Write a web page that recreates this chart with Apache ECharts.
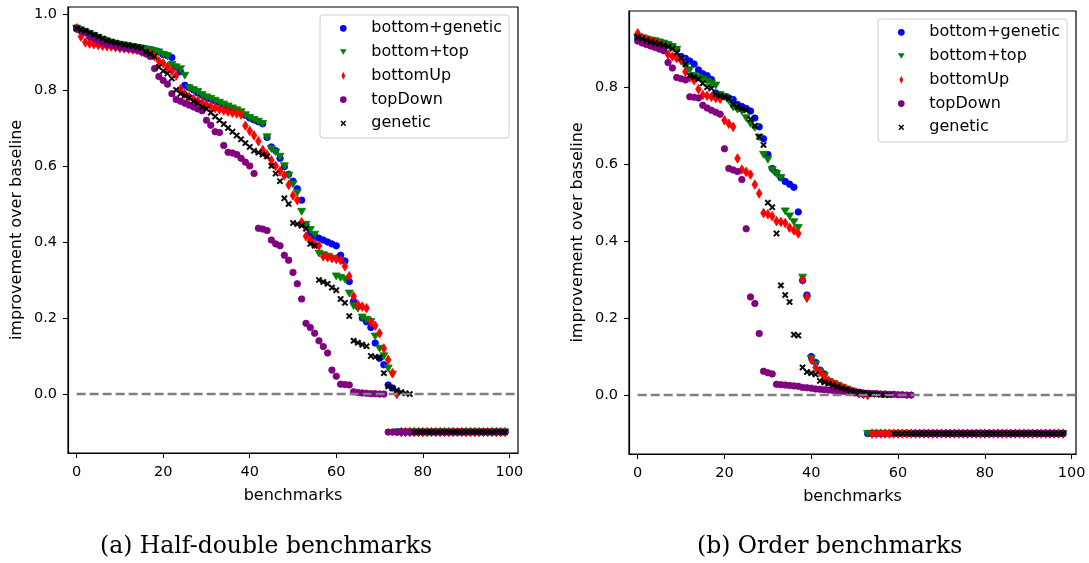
<!DOCTYPE html>
<html><head><meta charset="utf-8">
<script src="https://cdn.jsdelivr.net/npm/echarts@6/dist/echarts.min.js"></script>
<style>html,body{margin:0;padding:0;background:#fff}#c{width:1089px;height:563px}</style>
</head><body><div id="c"></div>
<script>
// ---------- data ----------
const seriesNames = ['bottom+genetic', 'bottom+top', 'bottomUp', 'topDown', 'genetic'];
const xTicks = [0, 20, 40, 60, 80, 100];
const yTicksA = [0, 0.2, 0.4, 0.6, 0.8, 1.0];
const yTicksB = [0, 0.2, 0.4, 0.6, 0.8];
const baselineValue = 0;
const captions = ['(a) Half-double benchmarks', '(b) Order benchmarks'];

// (a) Half-double benchmarks, index = benchmark
const halfBottomGenetic = [
 0.963,0.958,0.953,0.948,0.943,0.938,0.933,0.929,0.925,0.922,
 0.920,0.918,0.916,0.914,0.912,0.910,0.908,0.906,0.903,0.900,
 0.893,0.890,0.885,0.860,0.848,0.812,0.806,0.800,0.792,0.786,
 0.780,0.776,0.771,0.766,0.761,0.756,0.751,0.746,0.741,0.733,
 0.726,0.721,0.716,0.711,0.675,0.650,0.640,0.620,0.598,0.578,
 0.560,0.540,0.510,0.445,0.420,0.415,0.410,0.405,0.400,0.395,
 0.390,0.365,0.350,0.296,0.244,0.230,0.200,0.190,0.175,0.134,
 0.094,0.077,0.024,0.016,-0.1,-0.1,-0.1,-0.1,-0.1,-0.1,
 -0.1,-0.1,-0.1,-0.1,-0.1,-0.1,-0.1,-0.1,-0.1,-0.1,
 -0.1,-0.1,-0.1,-0.1,-0.1,-0.1,-0.1,-0.1,-0.1,-0.1];
const halfBottomTop = [
 0.962,0.957,0.952,0.947,0.942,0.937,0.932,0.928,0.924,0.921,
 0.919,0.917,0.915,0.913,0.911,0.909,0.907,0.905,0.902,0.899,
 0.893,0.889,0.866,0.860,0.855,0.838,0.805,0.800,0.795,0.787,
 0.781,0.777,0.772,0.767,0.762,0.757,0.752,0.747,0.742,0.734,
 0.727,0.722,0.717,0.711,0.676,0.645,0.636,0.625,0.600,0.575,
 0.552,0.530,0.480,0.446,0.432,0.420,0.370,0.366,0.362,0.356,
 0.310,0.306,0.302,0.265,0.232,0.225,0.202,0.196,0.190,0.152,
 0.120,0.100,0.068,0.052,-0.1,-0.1,-0.1,-0.1,-0.1,-0.1,
 -0.1,-0.1,-0.1,-0.1,-0.1,-0.1,-0.1,-0.1,-0.1,-0.1,
 -0.1,-0.1,-0.1,-0.1,-0.1,-0.1,-0.1,-0.1,-0.1,-0.1];
const halfBottomUp = [
 0.962,0.940,0.925,0.922,0.920,0.918,0.916,0.915,0.914,0.912,
 0.910,0.909,0.908,0.906,0.905,0.900,0.897,0.893,0.888,0.876,
 0.870,0.860,0.850,0.838,0.802,0.790,0.781,0.776,0.771,0.766,
 0.761,0.756,0.752,0.749,0.746,0.743,0.740,0.738,0.735,0.706,
 0.692,0.680,0.665,0.642,0.630,0.615,0.600,0.586,0.575,0.550,
 0.522,0.510,0.452,0.415,0.405,0.395,0.390,0.362,0.360,0.358,
 0.355,0.352,0.336,0.310,0.257,0.235,0.230,0.226,0.190,0.180,
 0.160,0.120,0.090,0.055,0.000,-0.1,-0.1,-0.1,-0.1,-0.1,
 -0.1,-0.1,-0.1,-0.1,-0.1,-0.1,-0.1,-0.1,-0.1,-0.1,
 -0.1,-0.1,-0.1,-0.1,-0.1,-0.1,-0.1,-0.1,-0.1,-0.1];
const halfTopDown = [
 0.960,0.955,0.950,0.940,0.935,0.930,0.925,0.920,0.918,0.915,
 0.912,0.910,0.908,0.906,0.904,0.900,0.895,0.888,0.856,0.835,
 0.825,0.815,0.790,0.775,0.770,0.765,0.760,0.755,0.750,0.745,
 0.720,0.707,0.690,0.688,0.654,0.636,0.634,0.630,0.620,0.610,
 0.600,0.580,0.436,0.434,0.430,0.405,0.395,0.390,0.365,0.352,
 0.320,0.290,0.250,0.186,0.175,0.160,0.140,0.125,0.108,0.063,
 0.047,0.026,0.025,0.024,0.006,0.004,0.003,0.002,0.001,0.001,
 0.000,0.000,-0.1,-0.1,-0.1,-0.1,-0.1,-0.1,-0.1,-0.1,
 -0.1,-0.1,-0.1,-0.1,-0.1,-0.1,-0.1,-0.1,-0.1,-0.1,
 -0.1,-0.1,-0.1,-0.1,-0.1,-0.1,-0.1,-0.1,-0.1,-0.1];
const halfGenetic = [
 0.962,0.958,0.955,0.950,0.945,0.940,0.935,0.930,0.927,0.924,
 0.921,0.919,0.917,0.915,0.913,0.910,0.900,0.895,0.888,0.860,
 0.850,0.843,0.830,0.800,0.790,0.785,0.780,0.770,0.765,0.755,
 0.750,0.740,0.730,0.720,0.710,0.700,0.690,0.680,0.670,0.660,
 0.650,0.640,0.635,0.630,0.625,0.600,0.580,0.560,0.515,0.500,
 0.450,0.447,0.443,0.435,0.395,0.390,0.300,0.295,0.290,0.280,
 0.273,0.250,0.240,0.205,0.140,0.135,0.130,0.126,0.100,0.098,
 0.096,0.055,0.020,0.015,0.010,0.005,0.002,0.000,-0.1,-0.1,
 -0.1,-0.1,-0.1,-0.1,-0.1,-0.1,-0.1,-0.1,-0.1,-0.1,
 -0.1,-0.1,-0.1,-0.1,-0.1,-0.1,-0.1,-0.1,-0.1,-0.1];

// (b) Order benchmarks
const orderBottomGenetic = [
 0.930,0.928,0.925,0.922,0.920,0.917,0.914,0.910,0.906,0.898,
 0.880,0.875,0.868,0.860,0.845,0.835,0.830,0.820,0.785,0.780,
 0.776,0.772,0.768,0.755,0.750,0.745,0.738,0.720,0.697,0.666,
 0.625,0.589,0.578,0.565,0.555,0.548,0.540,0.476,0.298,0.260,
 0.100,0.085,0.065,0.055,0.036,0.030,0.025,0.020,0.015,0.010,
 0.007,0.004,0.002,-0.1,-0.1,-0.1,-0.1,-0.1,-0.1,-0.1,
 -0.1,-0.1,-0.1,-0.1,-0.1,-0.1,-0.1,-0.1,-0.1,-0.1,
 -0.1,-0.1,-0.1,-0.1,-0.1,-0.1,-0.1,-0.1,-0.1,-0.1,
 -0.1,-0.1,-0.1,-0.1,-0.1,-0.1,-0.1,-0.1,-0.1,-0.1,
 -0.1,-0.1,-0.1,-0.1,-0.1,-0.1,-0.1,-0.1,-0.1];
const orderBottomTop = [
 0.930,0.928,0.925,0.922,0.920,0.917,0.914,0.910,0.905,0.898,
 0.870,0.855,0.845,0.830,0.825,0.820,0.815,0.810,0.805,0.780,
 0.775,0.765,0.748,0.742,0.738,0.720,0.705,0.695,0.670,0.625,
 0.612,0.585,0.575,0.565,0.478,0.465,0.450,0.435,0.306,0.250,
 0.095,0.080,0.060,0.050,0.035,0.030,0.025,0.020,0.015,0.010,
 0.006,0.003,0.001,-0.1,-0.1,-0.1,-0.1,-0.1,-0.1,-0.1,
 -0.1,-0.1,-0.1,-0.1,-0.1,-0.1,-0.1,-0.1,-0.1,-0.1,
 -0.1,-0.1,-0.1,-0.1,-0.1,-0.1,-0.1,-0.1,-0.1,-0.1,
 -0.1,-0.1,-0.1,-0.1,-0.1,-0.1,-0.1,-0.1,-0.1,-0.1,
 -0.1,-0.1,-0.1,-0.1,-0.1,-0.1,-0.1,-0.1,-0.1];
const orderBottomUp = [
 0.940,0.928,0.924,0.920,0.917,0.913,0.905,0.885,0.880,0.875,
 0.870,0.840,0.825,0.818,0.795,0.780,0.778,0.775,0.772,0.770,
 0.714,0.705,0.697,0.615,0.586,0.580,0.573,0.547,0.524,0.473,
 0.470,0.465,0.452,0.450,0.447,0.435,0.428,0.420,0.300,0.255,
 0.092,0.072,0.060,0.047,0.037,0.031,0.026,0.021,0.016,0.012,
 0.008,0.005,0.003,0.000,-0.1,-0.1,-0.1,-0.1,-0.1,-0.1,
 -0.1,-0.1,-0.1,-0.1,-0.1,-0.1,-0.1,-0.1,-0.1,-0.1,
 -0.1,-0.1,-0.1,-0.1,-0.1,-0.1,-0.1,-0.1,-0.1,-0.1,
 -0.1,-0.1,-0.1,-0.1,-0.1,-0.1,-0.1,-0.1,-0.1,-0.1,
 -0.1,-0.1,-0.1,-0.1,-0.1,-0.1,-0.1,-0.1,-0.1];
const orderTopDown = [
 0.920,0.915,0.911,0.907,0.903,0.899,0.895,0.864,0.850,0.825,
 0.822,0.819,0.775,0.774,0.772,0.753,0.746,0.740,0.735,0.730,
 0.640,0.589,0.585,0.581,0.560,0.432,0.255,0.238,0.160,0.062,
 0.058,0.055,0.028,0.027,0.026,0.025,0.024,0.023,0.020,0.019,
 0.018,0.016,0.015,0.014,0.013,0.012,0.011,0.010,0.009,0.008,
 0.007,0.006,0.005,0.005,0.004,0.004,0.003,0.003,0.002,0.002,
 0.001,0.001,0.000,0.000,-0.1,-0.1,-0.1,-0.1,-0.1,-0.1,
 -0.1,-0.1,-0.1,-0.1,-0.1,-0.1,-0.1,-0.1,-0.1,-0.1,
 -0.1,-0.1,-0.1,-0.1,-0.1,-0.1,-0.1,-0.1,-0.1,-0.1,
 -0.1,-0.1,-0.1,-0.1,-0.1,-0.1,-0.1,-0.1,-0.1];
const orderGenetic = [
 0.930,0.926,0.922,0.918,0.915,0.912,0.909,0.905,0.900,0.890,
 0.876,0.860,0.830,0.826,0.821,0.810,0.800,0.797,0.781,0.778,
 0.775,0.770,0.755,0.748,0.744,0.740,0.717,0.700,0.671,0.650,
 0.500,0.488,0.420,0.285,0.260,0.242,0.157,0.155,0.072,0.060,
 0.057,0.054,0.037,0.033,0.030,0.026,0.022,0.018,0.015,0.012,
 0.010,0.008,0.006,0.004,0.003,0.002,0.001,0.000,0.000,-0.1,
 -0.1,-0.1,-0.1,-0.1,-0.1,-0.1,-0.1,-0.1,-0.1,-0.1,
 -0.1,-0.1,-0.1,-0.1,-0.1,-0.1,-0.1,-0.1,-0.1,-0.1,
 -0.1,-0.1,-0.1,-0.1,-0.1,-0.1,-0.1,-0.1,-0.1,-0.1,
 -0.1,-0.1,-0.1,-0.1,-0.1,-0.1,-0.1,-0.1,-0.1];

// ---------- styling ----------
const FONT = 'DejaVu Sans';
const colors = ['#0000ff', '#008000', '#ff0000', '#800080', '#000000'];
const XPATH = 'M0,1.8L1.8,0L5,3.2L8.2,0L10,1.8L6.8,5L10,8.2L8.2,10L5,6.8L1.8,10L0,8.2L3.2,5Z';
const symbols = [
  'circle',
  'path://M0,0M10,10M0,1L10,1L5,9.5Z',
  'path://M0,0M10,10M5,0L8,5L5,10L2,5Z',
  'circle',
  'path://' + XPATH
];
const symbolSizes = [6.5, 8, 9.5, 6.5, 6];
const markerBorder = [0.8, 0.8, 0.8, 0.8, 0.6];
const legendIcons = [
  'path://M0,0M10,10M5,0.8A4.2,4.2,0,1,1,4.99,0.8Z',
  'path://M0,0M10,10M0.8,1.5L9.2,1.5L5,8.5Z',
  'path://M5,0L7.4,5L5,10L2.6,5Z',
  'path://M0,0M10,10M5,0.8A4.2,4.2,0,1,1,4.99,0.8Z',
  'path://M-2,-2M12,12' + XPATH
];

const plots = [
  { data: [halfBottomGenetic, halfBottomTop, halfBottomUp, halfTopDown, halfGenetic],
    grid: { left: 68, top: 7, width: 450, height: 446 },
    xMin: -2, xMax: 102, yMin: -0.155, yMax: 1.018, yTicks: yTicksA,
    legend: { left: 320, top: 15 }, caption: { left: 100, top: 535 } },
  { data: [orderBottomGenetic, orderBottomTop, orderBottomUp, orderTopDown, orderGenetic],
    grid: { left: 629, top: 11, width: 447, height: 443 },
    xMin: -2, xMax: 101, yMin: -0.153, yMax: 0.998, yTicks: yTicksB,
    legend: { left: 878, top: 19 }, caption: { left: 697, top: 535 } }
];

const grid = [], xAxis = [], yAxis = [], series = [], legend = [], title = [];
plots.forEach((p, gi) => {
  grid.push(Object.assign({ show: true, borderColor: '#000', borderWidth: 1.2, backgroundColor: 'transparent', containLabel: false }, p.grid));
  xAxis.push({
    type: 'value', gridIndex: gi, min: p.xMin, max: p.xMax,
    axisLine: { show: true, onZero: false, lineStyle: { color: '#000', width: 1.2 } },
    axisTick: { show: true, length: 5, customValues: xTicks, lineStyle: { color: '#000', width: 1.1 } },
    axisLabel: { customValues: xTicks, fontSize: 14.5, color: '#000', fontFamily: FONT, margin: 12 },
    splitLine: { show: false },
    name: 'benchmarks', nameLocation: 'middle', nameGap: 35,
    nameTextStyle: { fontSize: 16, color: '#000', fontFamily: FONT }
  });
  yAxis.push({
    type: 'value', gridIndex: gi, min: p.yMin, max: p.yMax,
    axisLine: { show: true, onZero: false, lineStyle: { color: '#000', width: 1.2 } },
    axisTick: { show: true, length: 5, customValues: p.yTicks, lineStyle: { color: '#000', width: 1.1 } },
    axisLabel: { customValues: p.yTicks, fontSize: 14.5, color: '#000', fontFamily: FONT, margin: 11,
                 formatter: v => v.toFixed(1) },
    splitLine: { show: false },
    name: 'improvement over baseline', nameLocation: 'middle', nameGap: 43, nameRotate: 90,
    nameTextStyle: { fontSize: 16, color: '#000', fontFamily: FONT }
  });
  seriesNames.forEach((name, k) => {
    series.push({
      type: 'scatter', name: name, xAxisIndex: gi, yAxisIndex: gi,
      symbol: symbols[k], symbolSize: symbolSizes[k],
      itemStyle: { color: colors[k], opacity: 1, borderColor: colors[k], borderWidth: markerBorder[k] },
      z: 2 + k * 0.01,
      data: p.data[k].map((v, i) => [i, v]),
      silent: true
    });
  });
  series.push({
    type: 'line', xAxisIndex: gi, yAxisIndex: gi, data: [], silent: true, z: 5,
    markLine: {
      silent: true, symbol: ['none', 'none'], label: { show: false },
      lineStyle: { color: '#7f7f7f', type: [9, 4], width: 2.3 },
      data: [[{ coord: [xTicks[0], baselineValue] }, { coord: [p.xMax, baselineValue] }]]
    }
  });
  legend.push({
    orient: 'vertical', left: p.legend.left, top: p.legend.top,
    data: seriesNames.map((n, k) => ({ name: n, icon: legendIcons[k] })),
    itemWidth: 8, itemHeight: 8, itemGap: 7.75,
    itemStyle: { borderWidth: 0 },
    padding: [5.3, 7, 6.7, 19.3],
    backgroundColor: 'rgba(255,255,255,0.8)', borderColor: '#cccccc', borderWidth: 1, borderRadius: 3,
    textStyle: { fontSize: 16, color: '#000', fontFamily: FONT, lineHeight: 16, padding: [0, 0, 0, 19] },
    selectedMode: false
  });
  title.push({
    text: captions[gi], left: p.caption.left, top: p.caption.top, padding: 0,
    textStyle: { fontSize: 23.5, fontWeight: 'normal', color: '#000', fontFamily: 'DejaVu Serif' }
  });
});

const chart = echarts.init(document.getElementById('c'), null, { renderer: 'canvas' });
chart.setOption({ animation: false, backgroundColor: '#fff', grid, xAxis, yAxis, series, legend, title });
</script></body></html>
